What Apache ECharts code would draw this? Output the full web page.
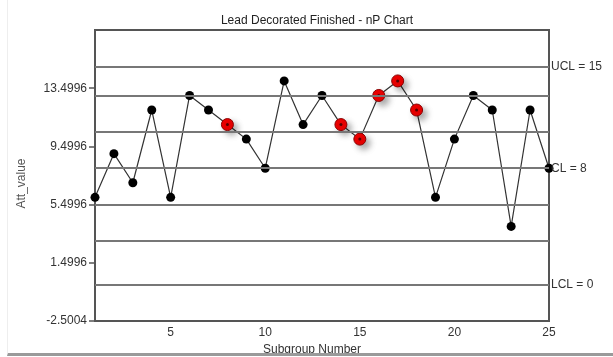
<!DOCTYPE html>
<html>
<head>
<meta charset="utf-8">
<script src="https://cdn.jsdelivr.net/npm/echarts@6/dist/echarts.min.js"></script>
<style>
  html, body { margin: 0; padding: 0; background: #fff; }
  #wrap { position: relative; width: 613px; height: 357px; }
  #chart { width: 613px; height: 357px; }
  #frame {
    position: absolute; left: 7px; top: 0; width: 606px; height: 353px;
    border-left: 1px solid #eee; border-bottom: 3px solid #9a9a9a;
    pointer-events: none;
  }
</style>
</head>
<body>
<div id="wrap">
  <div id="chart"></div>
  <div id="frame"></div>
</div>
<script>
// subgroup numbers and defect counts
const subgroups = [1, 2, 3, 4, 5, 6, 7, 8, 9, 10, 11, 12, 13, 14, 15, 16, 17, 18, 19, 20, 21, 22, 23, 24, 25]
const counts = [6, 9, 7, 12, 6, 13, 12, 11, 10, 8, 14, 11, 13, 11, 10, 13, 14, 12, 6, 10, 13, 12, 4, 12, 8]
// subgroups flagged as out-of-control (red markers)
const flagged = [8, 14, 15, 16, 17, 18]

const UCL = 15
const CL = 8
const LCL = 0
const zoneLines = [13, 10.5, 5.5, 3]

const yTicks = [-2.5004, 1.4996, 5.4996, 9.4996, 13.4996]
const yMin = -2.5004
const yMax = 17.4996
const xTicks = [5, 10, 15, 20, 25]

const chart = echarts.init(document.getElementById('chart'))

const points = subgroups.map((s, i) => {
  const isFlag = flagged.includes(s)
  return {
    value: [s, counts[i]],
    symbolSize: isFlag ? 12 : 9,
    itemStyle: isFlag ? {
      color: '#ee0000',
      borderColor: '#8a0000',
      borderWidth: 1,
      shadowBlur: 6,
      shadowOffsetX: 4,
      shadowOffsetY: 4,
      shadowColor: 'rgba(0,0,0,0.35)'
    } : { color: '#000' }
  }
})

const flagDots = subgroups
  .map((s, i) => [s, counts[i]])
  .filter(p => flagged.includes(p[0]))

const labelStyle = { color: '#333', fontSize: 12, fontFamily: 'Liberation Sans, Arial, sans-serif' }

const option = {
  animation: false,
  title: {
    text: 'Lead Decorated Finished - nP Chart',
    left: 312,
    top: 10,
    textAlign: 'center',
    textStyle: { color: '#222', fontSize: 12, fontWeight: 'normal', fontFamily: 'Liberation Sans, Arial, sans-serif' }
  },
  grid: {
    left: 95, right: 64, top: 30, bottom: 36,
    outerBoundsMode: 'none',
    containLabel: false,
    show: true, borderColor: '#555', borderWidth: 2, backgroundColor: '#fff'
  },
  xAxis: {
    type: 'value',
    min: 1,
    max: 25,
    name: 'Subgroup Number',
    nameLocation: 'middle',
    nameGap: 20,
    nameTextStyle: { ...labelStyle, padding: [0, 20, 0, 0] },
    axisLine: { show: true, lineStyle: { color: '#555', width: 2 } },
    axisTick: { show: false },
    splitLine: { show: false },
    axisLabel: { ...labelStyle, margin: 6, customValues: xTicks }
  },
  yAxis: {
    type: 'value',
    min: yMin,
    max: yMax,
    name: 'Att_value',
    nameLocation: 'middle',
    nameGap: 67,
    nameTextStyle: { ...labelStyle, color: '#555', padding: [0, 16, 0, 0] },
    axisLine: { show: true, lineStyle: { color: '#555', width: 2 } },
    axisTick: { show: true, length: 6, customValues: yTicks, lineStyle: { color: '#555', width: 1.5 } },
    splitLine: { show: false },
    axisLabel: { ...labelStyle, margin: 8, customValues: yTicks, formatter: v => v.toFixed(4) }
  },
  series: [
    {
      type: 'line',
      data: points,
      symbol: 'circle',
      lineStyle: { color: '#333', width: 1.2 },
      z: 3,
      markLine: {
        silent: true,
        symbol: 'none',
        animation: false,
        lineStyle: { color: '#777', width: 2, type: 'solid' },
        data: [
          { yAxis: UCL, label: { show: true, position: 'end', distance: 2, formatter: 'UCL = ' + UCL, ...labelStyle } },
          { yAxis: CL, label: { show: true, position: 'end', distance: 2, formatter: 'CL = ' + CL, ...labelStyle } },
          { yAxis: LCL, label: { show: true, position: 'end', distance: 2, formatter: 'LCL = ' + LCL, ...labelStyle } },
          ...zoneLines.map(v => ({ yAxis: v, label: { show: false } }))
        ]
      }
    },
    {
      type: 'scatter',
      data: flagDots,
      symbol: 'circle',
      symbolSize: 3,
      itemStyle: { color: '#300' },
      z: 4,
      silent: true
    }
  ]
}

chart.setOption(option)
</script>
</body>
</html>
